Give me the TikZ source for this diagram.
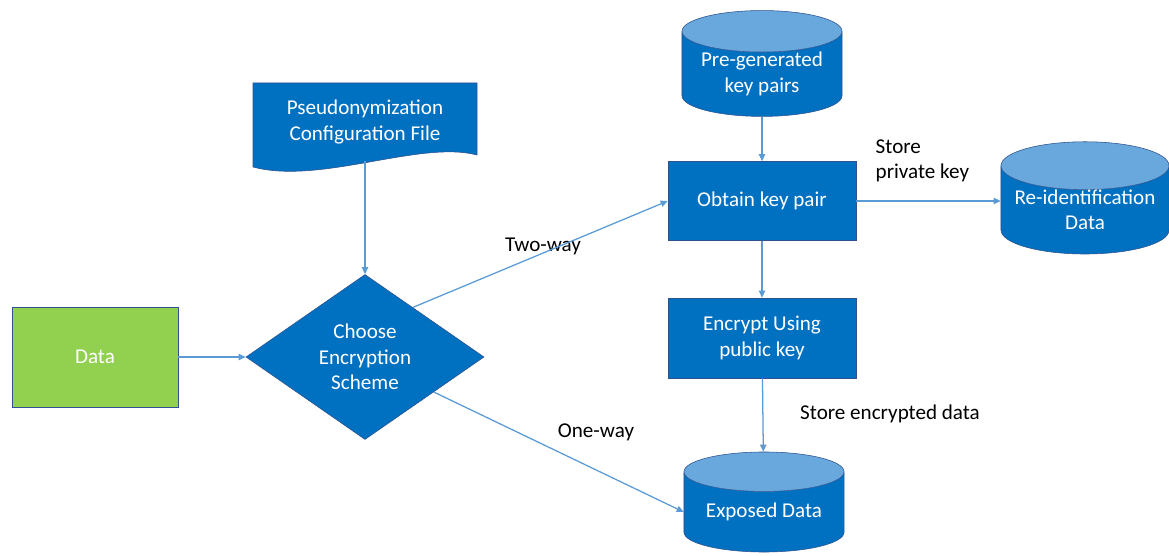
\documentclass[tikz,border=0pt]{standalone}
\usepackage{fontspec}
\setmainfont{Carlito}
\usepackage{xcolor}
\usetikzlibrary{shapes.geometric, arrows.meta, positioning}

\definecolor{officeblue}{RGB}{0,112,192}
\definecolor{topblue}{RGB}{104,168,220}
\definecolor{edgeblue}{RGB}{47,82,143}
\definecolor{linkblue}{RGB}{91,155,213}
\definecolor{datagreen}{RGB}{146,208,80}

\begin{document}
\begin{tikzpicture}[
    x=0.025cm, y=-0.025cm,
    font=\fontsize{15}{18}\selectfont,
    box/.style={rectangle, draw=edgeblue, fill=officeblue, text=white, align=center, inner sep=0pt, minimum width=4.7cm, minimum height=1.975cm},
    store/.style={cylinder, shape border rotate=90, aspect=0.34, draw=edgeblue, cylinder uses custom fill, cylinder body fill=officeblue, cylinder end fill=topblue, text=white, align=center, inner sep=0pt, minimum width=4cm, minimum height=2.45cm},
    label/.style={text=black, align=left, inner sep=1pt},
    arrow/.style={draw=linkblue, line width=0.9pt, -{Triangle[length=5pt, width=4.5pt]}}
]
\useasboundingbox (0,0) rectangle (1169,556);

% input side
\node[rectangle, draw=edgeblue, fill=datagreen, text=white, minimum width=4.15cm, minimum height=2.5cm] (data) at (95,357) {Data};
\node[diamond, aspect=1.44, draw=edgeblue, fill=officeblue, text=white, align=center, inner sep=0pt, minimum width=5.95cm, minimum height=4.125cm] (choose) at (365,357) {Choose\\Encryption\\Scheme};

% config file (document shape)
\path[draw=edgeblue, fill=officeblue] (253,83) -- (477,83) -- (477,155) .. controls (420,140) and (320,185) .. (253,167) -- cycle;
\node[text=white, align=center, inner sep=0pt, minimum width=5.6cm, minimum height=1.95cm] (config) at (365,122) {Pseudonymization\\Configuration File};

% key handling
\node[store, minimum height=2.6cm] (pairs) at (762,74) {Pre-generated\\key pairs};
\node[box] (obtain) at (762,201) {Obtain key pair};
\node[box, minimum height=2cm] (encrypt) at (762,338) {Encrypt Using\\public key};
\node[store, minimum width=4.2cm] (reid) at (1085,210) {Re-identification\\Data};
\node[store, minimum height=2.5cm] (exposed) at (764,512) {Exposed Data};

% labels
\node[label] (twoway) at (543,246) {Two-way};
\node[label] (oneway) at (596,432) {One-way};
\node[label, anchor=west] (storepriv) at (874,161) {Store\\private key};
\node[label] (storeenc) at (890,414) {Store encrypted data};

\draw[arrow] (data) -- (choose);
\draw[arrow] (config) -- (choose);
\draw[arrow] (choose.46) -- (obtain.west);
\draw[arrow] (choose.-27) -- (exposed.west);
\draw[arrow] (pairs) -- (obtain);
\draw[arrow] (obtain) -- (obtain -| reid.west);
\draw[arrow] (obtain) -- (encrypt);
\draw[arrow] (encrypt) -- (exposed);

\end{tikzpicture}
\end{document}
